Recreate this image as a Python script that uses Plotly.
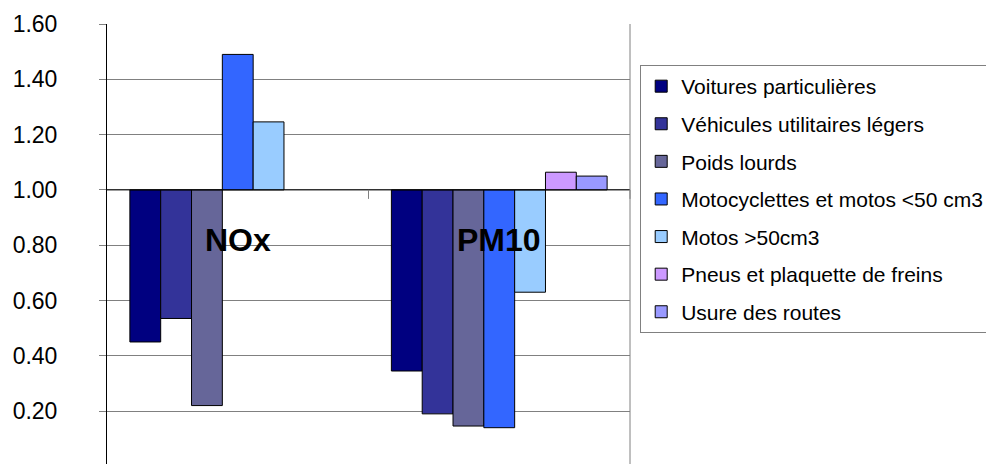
import plotly.graph_objects as go

categories = ["NOx", "PM10"]
series_names = [
    "Voitures particulières",
    "Véhicules utilitaires légers",
    "Poids lourds",
    "Motocyclettes et motos <50 cm3",
    "Motos >50cm3",
    "Pneus et plaquette de freins",
    "Usure des routes",
]
voitures = [0.45, 0.345]
vul = [0.535, 0.19]
poids_lourds = [0.22, 0.146]
moto_lt50 = [1.49, 0.14]
motos_gt50 = [1.246, 0.63]
pneus = [None, 1.064]
usure = [None, 1.05]
colors = ["#000080", "#333399", "#666699", "#3366FF", "#99CCFF", "#CC99FF", "#9999FF"]
baseline = 1.0
y_ticks = [0.2, 0.4, 0.6, 0.8, 1.0, 1.2, 1.4, 1.6]

all_series = [voitures, vul, poids_lourds, moto_lt50, motos_gt50, pneus, usure]
FONT = "Arial, Liberation Sans, sans-serif"

fig = go.Figure()
for i, (name, vals, col) in enumerate(zip(series_names, all_series, colors)):
    fig.add_trace(go.Bar(
        name=name,
        x=categories,
        y=[None if v is None else v - baseline for v in vals],
        base=baseline,
        marker=dict(color=col, line=dict(color="black", width=1)),
        legendgroup=f"g{i}",
    ))

fig.update_layout(
    width=994, height=464,
    margin=dict(l=99, r=372, t=16, b=8, autoexpand=False),
    paper_bgcolor="white", plot_bgcolor="white",
    barmode="group", bargap=0.175, bargroupgap=0,
    font=dict(family=FONT, color="black"),
    showlegend=True,
    legend=dict(
        x=1.0195, xanchor="left", y=0.9068, yanchor="top",
        bordercolor="#808080", borderwidth=1,
        font=dict(family=FONT, size=21, color="black"),
        tracegroupgap=7.3, traceorder="grouped",
    ),
    xaxis=dict(showgrid=False, showline=False, showticklabels=False,
               zeroline=False, ticks=""),
    yaxis=dict(range=[0.0087, 1.6], tickvals=y_ticks, tickformat=".2f",
               showgrid=True, gridcolor="#808080", gridwidth=1,
               showline=True, linecolor="black", linewidth=1,
               ticks="outside", ticklen=7, tickcolor="#808080",
               ticklabelstandoff=37, zeroline=False,
               tickfont=dict(family=FONT, size=23, color="black")),
)

# horizontal category axis crossing at 1.0
fig.add_shape(type="line", xref="paper", yref="y", x0=0, x1=1, y0=baseline, y1=baseline,
              line=dict(color="black", width=1))
for xp in [0.5, 1.0]:
    fig.add_shape(type="line", xref="paper", yref="y", ysizemode="pixel", yanchor=baseline,
                  x0=xp, x1=xp, y0=0, y1=-9, line=dict(color="#808080", width=1))
# plot area right border
fig.add_shape(type="line", xref="paper", yref="paper", x0=1, x1=1, y0=0, y1=1,
              line=dict(color="#808080", width=1))

for c in categories:
    fig.add_annotation(x=c, y=0.82, xref="x", yref="y", text=f"<b>{c}</b>",
                       showarrow=False, font=dict(family=FONT, size=32, color="black"))

fig.write_html("out.html")
